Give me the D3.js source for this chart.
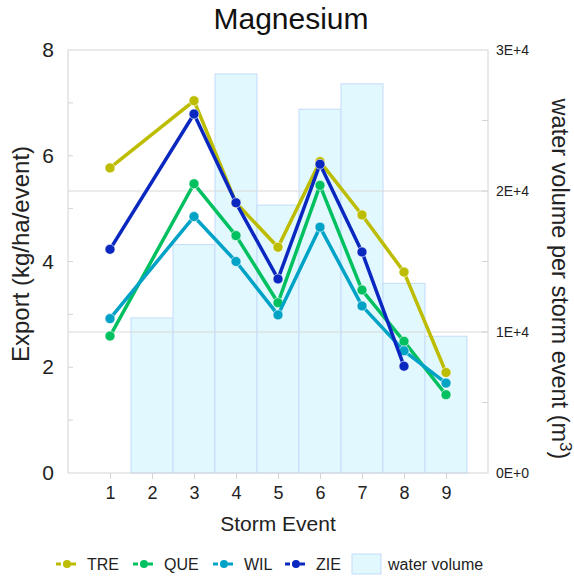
<!DOCTYPE html>
<html><head><meta charset="utf-8">
<script src="https://cdn.jsdelivr.net/npm/d3@7"></script>
<style>body{margin:0;background:#fff}svg{font-family:"Liberation Sans",Arial,sans-serif}</style>
</head><body><svg id="c" width="574" height="579"></svg>
<script>
const events = [1,2,3,4,5,6,7,8,9];
const volume = [null,11000,16200,28300,19000,25800,27600,13450,9700];
const TRE = [5.77,null,7.04,5.11,4.27,5.89,4.88,3.80,1.90];
const QUE = [2.59,null,5.47,4.49,3.22,5.44,3.46,2.49,1.48];
const WIL = [2.92,null,4.85,4.00,2.99,4.65,3.16,2.31,1.70];
const ZIE = [4.23,null,6.79,5.11,3.67,5.84,4.18,2.02,null];
const seriesNames = ["TRE","QUE","WIL","ZIE"];
const seriesColors = ["#bcbc00","#00c060","#00a2c6","#0a28c0"];
const leftTicks = [0,2,4,6,8];
const rightTicks = [0,10000,20000,30000];
const rightTickLabels = ["0E+0","1E+4","2E+4","3E+4"];

const svg = d3.select("#c");
const L=68,R=488,T=50,B=473;
const x = d3.scaleLinear().domain([0,10]).range([L,R]);
const yL = d3.scaleLinear().domain([0,8]).range([B,T]);
const yR = d3.scaleLinear().domain([0,30000]).range([B,T]);
const bw = x(1)-x(0);

// bars
svg.append("g").selectAll("rect").data(events.map((e,i)=>({e,v:volume[i]})).filter(d=>d.v!=null))
 .join("rect").attr("x",d=>x(d.e)-bw/2).attr("width",bw)
 .attr("y",d=>yR(d.v)).attr("height",d=>B-yR(d.v))
 .attr("fill","#e2f8ff").attr("stroke","#c4dcfa").attr("stroke-width",1);

// gridlines
svg.append("g").selectAll("line").data([10000,20000]).join("line")
 .attr("x1",L).attr("x2",R).attr("y1",d=>yR(d)).attr("y2",d=>yR(d))
 .attr("stroke","#d8d8d8").attr("stroke-width",1);

// frame
svg.append("rect").attr("x",L).attr("y",T).attr("width",R-L).attr("height",B-T)
 .attr("fill","none").attr("stroke","#d4d4d4");

// left axis
const gl = svg.append("g").attr("transform",`translate(${L},0)`)
 .call(d3.axisLeft(yL).tickValues(leftTicks).tickSize(0).tickPadding(14).tickFormat(d3.format("d")));
gl.select(".domain").remove();
gl.selectAll("text").attr("font-size",21).attr("fill","#222");
svg.append("g").selectAll("line").data(d3.range(1,8)).join("line")
 .attr("x1",L).attr("x2",L+5).attr("y1",d=>yL(d)).attr("y2",d=>yL(d)).attr("stroke","#d4d4d4");

// right axis
const gr = svg.append("g").attr("transform",`translate(${R},0)`)
 .call(d3.axisRight(yR).tickValues(rightTicks).tickSize(0).tickPadding(8).tickFormat((d,i)=>rightTickLabels[i]));
gr.select(".domain").remove();
gr.selectAll("text").attr("font-size",14).attr("fill","#222");
svg.append("g").selectAll("line").data(d3.range(5000,30000,5000)).join("line")
 .attr("x1",R-6).attr("x2",R).attr("y1",d=>yR(d)).attr("y2",d=>yR(d)).attr("stroke","#d4d4d4");

// x axis
const gx = svg.append("g").attr("transform",`translate(0,${B})`)
 .call(d3.axisBottom(x).tickValues(events).tickSize(6).tickPadding(7).tickFormat(d3.format("d")));
gx.select(".domain").remove();
gx.selectAll("line").attr("stroke","#d4d4d4");
gx.selectAll("text").attr("font-size",18).attr("fill","#222");

// lines
const allSeries=[TRE,QUE,WIL,ZIE];
allSeries.forEach((s,k)=>{
  const pts = events.map((e,i)=>({e,v:s[i]})).filter(d=>d.v!=null);
  svg.append("path").datum(pts).attr("fill","none").attr("stroke",seriesColors[k]).attr("stroke-width",3.5)
   .attr("stroke-linejoin","round")
   .attr("d",d3.line().x(d=>x(d.e)).y(d=>yL(d.v)));
  svg.append("g").selectAll("circle").data(pts).join("circle")
   .attr("cx",d=>x(d.e)).attr("cy",d=>yL(d.v)).attr("r",5)
   .attr("fill",seriesColors[k]).attr("stroke","#fff").attr("stroke-opacity",0.6).attr("stroke-width",1);
});

// titles
svg.append("text").attr("x",291).attr("y",29).attr("text-anchor","middle").attr("font-size",30).attr("fill","#111").text("Magnesium");
svg.append("text").attr("x",278).attr("y",531).attr("text-anchor","middle").attr("font-size",21).attr("fill","#222").text("Storm Event");
svg.append("text").attr("transform","translate(29,254) rotate(-90)").attr("text-anchor","middle").attr("font-size",24).attr("fill","#222").text("Export (kg/ha/event)");
const rt = svg.append("text").attr("transform","translate(552,279) rotate(90)").attr("text-anchor","middle").attr("font-size",23.5).attr("fill","#222");
rt.append("tspan").text("water volume per storm event (m");
rt.append("tspan").attr("font-size",17).attr("dy",-8).text("3");
rt.append("tspan").attr("dy",8).text(")");

// legend
const leg = svg.append("g");
const legX = [56,133,213,285];
seriesNames.forEach((n,k)=>{
  const g = leg.append("g").attr("transform",`translate(${legX[k]},564)`);
  g.append("line").attr("x1",0).attr("x2",22).attr("stroke",seriesColors[k]).attr("stroke-width",3).attr("stroke-dasharray","5,2.5");
  g.append("circle").attr("cx",11).attr("cy",0).attr("r",4).attr("fill",seriesColors[k]);
  g.append("text").attr("x",31).attr("y",5.5).attr("font-size",16).attr("fill","#222").text(n);
});
leg.append("rect").attr("x",352).attr("y",554).attr("width",29).attr("height",20).attr("fill","#e2f8ff").attr("stroke","#c4dcfa");
leg.append("text").attr("x",388).attr("y",569.5).attr("font-size",16).attr("fill","#222").text("water volume");
</script></body></html>
